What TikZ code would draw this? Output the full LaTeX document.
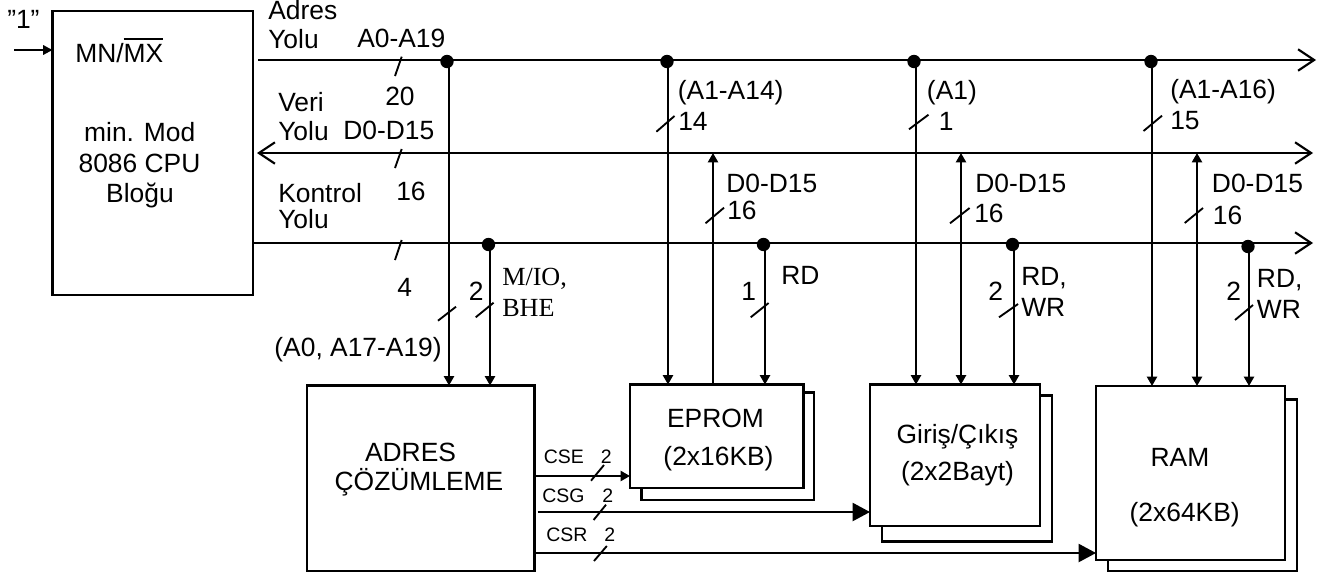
\documentclass[tikz,border=0pt]{standalone}
\usepackage{fontspec}
\setmainfont{Liberation Sans}
\newfontfamily\timesfont{Liberation Serif}
\usetikzlibrary{arrows.meta}
\newcommand{\ovl}[1]{\leavevmode\vbox{\hrule height 1.5pt \kern 3pt \hbox{#1}}}
\newcommand{\boxnode}[5]{\node[blockbox,minimum width={(#4-#2)*0.75pt},minimum height={(#5-#3)*0.75pt}] (#1) at ({(#2+#4)/2},{(#3+#5)/2}) {};}
\newcommand{\bustick}[4]{\draw[ticksty] (#1,#2) -- (#3,#4);}
\tikzset{
  blockbox/.style={draw=black,fill=white,line width=1.8pt,inner sep=0pt,outer sep=0pt},
  lbl/.style={anchor=base west,inner sep=0pt,font=\fontsize{19.8}{22}\selectfont},
  lblc/.style={lbl,anchor=base},
  lblr/.style={lbl,anchor=base east},
  smalllbl/.style={lbl,font=\fontsize{14.6}{16}\selectfont},
  serif/.style={lbl,font=\timesfont\fontsize{19.6}{22}\selectfont},
  dotn/.style={circle,fill=black,inner sep=0pt,minimum size=10pt},
  bus/.style={line width=1.7pt,-{Straight Barb[length=12pt,width=16pt,line width=1.6pt]}},
  bibus/.style={line width=1.7pt,{Straight Barb[length=12pt,width=16pt,line width=1.6pt]}-{Straight Barb[length=12pt,width=16pt,line width=1.6pt]}},
  wire/.style={line width=1.6pt},
  into/.style={wire,-{Triangle[length=7pt,width=7.5pt]}},
  both/.style={wire,{Triangle[length=7pt,width=7.5pt]}-{Triangle[length=7pt,width=7.5pt]}},
  bigin/.style={wire,-{Triangle[length=13pt,width=13.5pt]}},
  ticksty/.style={line width=1.4pt}
}
\begin{document}
\begin{tikzpicture}[x=0.75pt,y=-0.75pt]
\useasboundingbox (0,0) rectangle (1333,575);
% shadows then blocks
\boxnode{eps}{641.5}{392.5}{814}{500}
\boxnode{ios}{882}{395.5}{1052}{541.5}
\boxnode{rams}{1108}{399.5}{1297}{571}
\boxnode{cpu}{52.5}{11}{253}{295}
\boxnode{dec}{307}{385.5}{534.5}{571}
\boxnode{ep}{630}{384.5}{803.5}{488}
\boxnode{io}{870}{384.5}{1040}{526}
\boxnode{ram}{1096}{386}{1285}{560}
% named ends
\coordinate (inS) at (14,50);
\coordinate (aS) at (258,60);
\coordinate (aE) at (1316,60);
\coordinate (dS) at (257,153);
\coordinate (dE) at (1313,153);
\coordinate (cE) at (1313,243);
\coordinate (fa1) at (449,385.5);
\coordinate (fc1) at (490,385.5);
\coordinate (fa2) at (668,384.5);
\coordinate (fd2) at (713,384.5);
\coordinate (fc2) at (765,384.5);
\coordinate (fa3) at (916,384.5);
\coordinate (fd3) at (961,384.5);
\coordinate (fc3) at (1014,384.5);
\coordinate (fa4) at (1152,386);
\coordinate (fd4) at (1197,386);
\coordinate (fc4) at (1249,386);
\coordinate (cseS) at (534.5,476);
\coordinate (csgS) at (537.5,512);
\coordinate (csrS) at (534.5,553);
% buses
\draw[wire,-{Triangle[length=7pt,width=7pt]}] (inS) -- (inS -| cpu.west);
\draw[bus] (aS) -- (aE);
\draw[bibus] (dS) -- (dE);
\draw[bus] (cpu.east |- cE) -- (cE);
% junction dots
\node[dotn] (j1) at (447,61.5) {};
\node[dotn] (j2) at (667,61.5) {};
\node[dotn] (j3) at (914,61.5) {};
\node[dotn] (j4) at (1151,61.5) {};
\node[dotn] (k1) at (488.5,244.5) {};
\node[dotn] (k2) at (763.5,244.5) {};
\node[dotn] (k3) at (1012.5,244.5) {};
\node[dotn] (k4) at (1248,246.5) {};
% vertical connectors
\draw[into] (fa1 |- j1) -- (fa1);
\draw[into] (fc1 |- k1) -- (fc1);
\draw[into] (fa2 |- j2) -- (fa2);
\draw[into] (fd2) -- (fd2 |- dE);
\draw[into] (fc2 |- k2) -- (fc2);
\draw[into] (fa3 |- j3) -- (fa3);
\draw[both] (fd3 |- dE) -- (fd3);
\draw[into] (fc3 |- k3) -- (fc3);
\draw[into] (fa4 |- j4) -- (fa4);
\draw[both] (fd4 |- dE) -- (fd4);
\draw[into] (fc4 |- k4) -- (fc4);
% chip selects
\draw[into] (cseS) -- (cseS -| ep.west);
\draw[bigin] (csgS) -- (csgS -| io.west);
\draw[bigin] (csrS) -- (csrS -| ram.west);
% ticks
\bustick{401.7}{56.7}{395}{76}
\bustick{401.7}{149}{395}{168}
\bustick{401.7}{240}{395}{260}
\bustick{456}{306.7}{438}{320.7}
\bustick{493.6}{302.7}{475.7}{317.3}
\bustick{768.6}{303}{750.7}{317.3}
\bustick{1018}{304}{999}{317.3}
\bustick{1253}{305}{1235}{320}
\bustick{604}{465}{591}{480.7}
\bustick{606}{504.7}{593.6}{520}
\bustick{606.8}{546}{594}{561}
\bustick{674.5}{116}{656.4}{131.7}
\bustick{928.5}{114.7}{909}{129.3}
\bustick{1162}{115.7}{1143.5}{131}
\bustick{724}{207.7}{705.5}{223.3}
\bustick{969.6}{208}{950}{223.3}
\bustick{1203}{208}{1184.7}{223}
% labels
\node[lbl] (t1) at (7,28) {"1"};
\node[lbl] (tmn) at (75,62) {MN/\ovl{MX}};
\node[lblc] (tc1) at (139.7,141.7) {min. Mod};
\node[lblc] (tc2) at (139.5,172.7) {8086 CPU};
\node[lblc] (tc3) at (140,202) {Bloğu};
\node[lbl] (ta1) at (268,19.5) {Adres};
\node[lbl] (ta2) at (268,48) {Yolu};
\node[lbl] (ta3) at (357,47) {A0-A19};
\node[lbl] (ta4) at (385,105) {20};
\node[lbl] (tv1) at (278,111) {Veri};
\node[lbl] (tv2) at (278,140) {Yolu};
\node[lbl] (tv3) at (343,139) {D0-D15};
\node[lbl] (tv4) at (396,200) {16};
\node[lbl] (tk1) at (278,202) {Kontrol};
\node[lbl] (tk2) at (278,228) {Yolu};
\node[lbl] (tk3) at (397,296) {4};
\node[lbl] (td1) at (468.5,300) {2};
\node[serif] (td2) at (502,285) {M/IO,};
\node[serif] (td3) at (502,316.7) {BHE};
\node[lblr] (td4) at (442,356) {(A0, A17-A19)};
\node[lblc] (td5) at (410.5,461) {ADRES};
\node[lblc] (td6) at (419,490) {ÇÖZÜMLEME};
\node[smalllbl] (ts1) at (543.6,463) {CSE};
\node[smalllbl] (ts2) at (600.7,463) {2};
\node[smalllbl] (ts3) at (542,502) {CSG};
\node[smalllbl] (ts4) at (602,502) {2};
\node[smalllbl] (ts5) at (546,541.7) {CSR};
\node[smalllbl] (ts6) at (604,541.7) {2};
\node[lbl] (te1) at (677.6,99) {(A1-A14)};
\node[lbl] (te2) at (678,130.7) {14};
\node[lbl] (te3) at (726,192.7) {D0-D15};
\node[lbl] (te4) at (727,219) {16};
\node[lbl] (te5) at (781,284) {RD};
\node[lbl] (te6) at (741,300) {1};
\node[lblc] (te7) at (715.5,427.7) {EPROM};
\node[lblc] (te8) at (718.5,465.7) {(2x16KB)};
\node[lbl] (tg1) at (926.7,99) {(A1)};
\node[lbl] (tg2) at (938.7,130.7) {1};
\node[lbl] (tg3) at (975,192.7) {D0-D15};
\node[lbl] (tg4) at (974,222) {16};
\node[lbl] (tg5) at (1021,285) {RD,};
\node[lbl] (tg6) at (1021,316) {WR};
\node[lbl] (tg7) at (988,300.7) {2};
\node[lblc] (tg8) at (957.5,443) {Giriş/Çıkış};
\node[lblc] (tg9) at (957.5,480) {(2x2Bayt)};
\node[lbl] (tr1) at (1170,98) {(A1-A16)};
\node[lbl] (tr2) at (1170,129) {15};
\node[lbl] (tr3) at (1211.7,192.7) {D0-D15};
\node[lbl] (tr4) at (1212.7,224.7) {16};
\node[lbl] (tr5) at (1256.7,287) {RD,};
\node[lbl] (tr6) at (1256.7,318) {WR};
\node[lbl] (tr7) at (1226,300) {2};
\node[lblc] (tr8) at (1180,466.7) {RAM};
\node[lblc] (tr9) at (1184.7,521.7) {(2x64KB)};
\end{tikzpicture}
\end{document}
